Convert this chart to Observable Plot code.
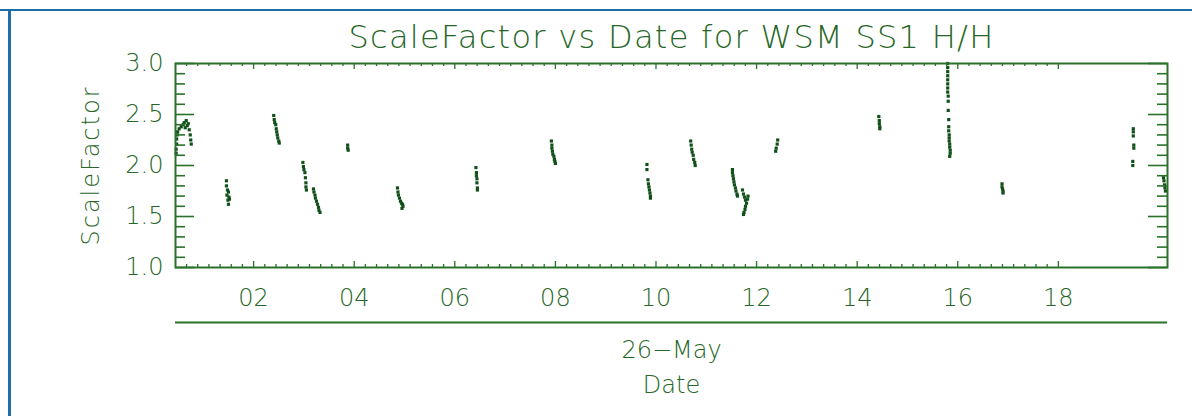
<!DOCTYPE html>
<html><head><meta charset="utf-8">
<script src="https://cdn.jsdelivr.net/npm/d3@7"></script>
<script src="https://cdn.jsdelivr.net/npm/@observablehq/plot@0.6"></script>
<style>
html,body{margin:0;padding:0;background:#fff;width:1192px;height:416px;overflow:hidden;}
#wrap{position:relative;width:1192px;height:416px;}
#chart{position:absolute;left:0;top:0;}
#topline{position:absolute;left:0;top:9px;width:1192px;height:2px;background:#1e6ea7;}
#leftline{position:absolute;left:8px;top:9px;width:3px;height:407px;background:#1e6ea7;}
</style></head><body>
<div id="wrap"><div id="chart"></div><div id="topline"></div><div id="leftline"></div></div>
<script>
// ---- data (hours of 26-May, scale factor) ----
const timeHours = [
  0.46,0.46,0.47,0.47,0.48,0.49,0.52,0.56,0.60,0.62,0.64,0.66,0.68,0.70,0.72,0.74,0.75,0.76,
  1.46,1.46,1.48,1.50,1.47,1.51,1.49,1.52,1.50,
  2.40,2.41,2.42,2.44,2.45,2.46,2.47,2.48,2.50,2.51,
  2.98,2.99,3.00,3.02,3.03,3.04,3.04,3.05,
  3.19,3.20,3.22,3.23,3.25,3.27,3.29,3.30,3.32,
  3.87,3.87,3.88,
  4.86,4.87,4.88,4.90,4.92,4.94,4.96,4.97,4.95,
  6.42,6.43,6.43,6.44,6.44,6.45,6.45,
  7.92,7.93,7.93,7.94,7.95,7.97,7.98,7.99,8.00,
  9.82,9.82,9.84,9.85,9.86,9.87,9.88,9.89,9.89,
  10.69,10.70,10.71,10.72,10.74,10.75,10.77,10.78,
  11.52,11.52,11.53,11.54,11.55,11.56,11.58,11.59,11.61,11.62,
  11.72,11.74,11.76,11.78,11.80,11.78,11.77,11.75,11.74,11.82,11.83,
  12.38,12.39,12.41,12.42,
  14.43,14.44,14.44,14.45,14.45,
  15.80,15.80,15.80,15.80,15.80,15.80,15.80,15.80,15.81,15.81,15.81,15.82,15.82,15.82,15.83,15.83,15.83,15.84,15.84,15.85,15.85,15.84,
  16.88,16.88,16.89,16.90,16.90,
  19.49,19.49,19.49,19.50,19.50,19.48,19.48,
  20.09,20.10,20.11,20.12,20.13
];
const scaleFactor = [
  2.12,2.16,2.21,2.26,2.30,2.33,2.36,2.38,2.40,2.42,2.37,2.44,2.39,2.41,2.35,2.30,2.25,2.21,
  1.85,1.80,1.76,1.74,1.71,1.69,1.66,1.67,1.62,
  2.49,2.45,2.42,2.40,2.36,2.33,2.30,2.27,2.24,2.22,
  2.03,1.99,1.96,1.93,1.88,1.83,1.79,1.76,
  1.77,1.74,1.71,1.68,1.65,1.62,1.59,1.56,1.54,
  2.20,2.17,2.15,
  1.78,1.74,1.71,1.68,1.65,1.63,1.62,1.60,1.58,
  1.98,1.93,1.90,1.87,1.83,1.78,1.76,
  2.24,2.20,2.17,2.14,2.11,2.09,2.06,2.04,2.02,
  2.01,1.96,1.86,1.82,1.79,1.76,1.73,1.70,1.68,
  2.24,2.20,2.16,2.13,2.10,2.06,2.03,2.00,
  1.96,1.93,1.90,1.87,1.84,1.81,1.78,1.75,1.72,1.70,
  1.76,1.72,1.69,1.66,1.63,1.60,1.57,1.54,1.52,1.67,1.70,
  2.14,2.17,2.21,2.25,
  2.48,2.44,2.41,2.38,2.36,
  3.00,2.96,2.92,2.88,2.84,2.80,2.76,2.72,2.68,2.63,2.54,2.45,2.38,2.34,2.30,2.27,2.24,2.21,2.18,2.15,2.12,2.09,
  1.82,1.79,1.77,1.75,1.73,
  2.36,2.33,2.29,2.20,2.17,2.04,2.00,
  1.88,1.85,1.81,1.78,1.75
];
const xDomain = [0.447, 20.17];
const yDomain = [1.0, 3.0];
const xTicks = [2, 4, 6, 8, 10, 12, 14, 16, 18];
const xTickLabels = ["02", "04", "06", "08", "10", "12", "14", "16", "18"];
const yTicks = [1.0, 1.5, 2.0, 2.5, 3.0];
const yTickLabels = ["1.0", "1.5", "2.0", "2.5", "3.0"];
const titleText = "ScaleFactor vs Date for WSM SS1 H/H";
const yLabel = "ScaleFactor";
const dateLabel = "26\u2212May";
const xLabel = "Date";

// ---- style ----
const W = 1192, H = 416, mL = 175, mR = 25, mT = 63, mB = 149;
const plotW = W - mL - mR, plotH = H - mT - mB;
const axisColor = "#2a712a", textColor = "#266626", dataColor = "#12501a";
const font = "DejaVu Sans, sans-serif";

const yMinor = d3.range(10, 31).map(i => i / 10).filter(v => !yTicks.some(t => Math.abs(t - v) < 1e-9));
const xMinor = d3.range(0, 82).map(k => k * 2 / 9).filter(v => v > xDomain[0] && v < xDomain[1] && Math.abs(v / 2 - Math.round(v / 2)) > 1e-6);

const pts = timeHours.map((h, i) => ({h, v: scaleFactor[i]}));
const txt = {fill: textColor, fontWeight: 300};

const chart = Plot.plot({
  width: W, height: H,
  marginLeft: mL, marginRight: mR, marginTop: mT, marginBottom: mB,
  style: {fontFamily: font, background: "transparent"},
  x: {domain: xDomain, axis: null},
  y: {domain: yDomain, axis: null},
  marks: [
    // data
    Plot.dot(pts, {x: "h", y: "v", symbol: "square", r: 1.8, fill: dataColor, stroke: "none"}),
    // frame
    Plot.frame({stroke: axisColor, strokeWidth: 2}),
    // y ticks left / right
    Plot.tickY(yTicks, {y: d => d, insetRight: plotW - 19, stroke: axisColor, strokeWidth: 1.6}),
    Plot.tickY(yMinor, {y: d => d, insetRight: plotW - 10, stroke: axisColor, strokeWidth: 1.6}),
    Plot.tickY(yTicks, {y: d => d, insetLeft: plotW - 19, stroke: axisColor, strokeWidth: 1.6}),
    Plot.tickY(yMinor, {y: d => d, insetLeft: plotW - 10, stroke: axisColor, strokeWidth: 1.6}),
    // x ticks bottom / top
    Plot.tickX(xTicks, {x: d => d, insetTop: plotH - 6, stroke: axisColor, strokeWidth: 1.3}),
    Plot.tickX(xMinor, {x: d => d, insetTop: plotH - 3, stroke: axisColor, strokeWidth: 1.3}),
    Plot.tickX(xTicks, {x: d => d, insetBottom: plotH - 6, stroke: axisColor, strokeWidth: 1.3}),
    Plot.tickX(xMinor, {x: d => d, insetBottom: plotH - 3, stroke: axisColor, strokeWidth: 1.3}),
    // second (date) axis line
    Plot.tickY([yDomain[0]], {y: d => d, dy: 55, stroke: axisColor, strokeWidth: 2}),
    // tick labels
    Plot.text(yTicks, {y: d => d, text: (d, i) => yTickLabels[i], frameAnchor: "left", dx: -12, textAnchor: "end", lineAnchor: "middle", fontSize: 24, ...txt}),
    Plot.text(xTicks, {x: d => d, text: (d, i) => xTickLabels[i], frameAnchor: "bottom", dy: 21, lineAnchor: "top", fontSize: 24, ...txt}),
    // labels
    Plot.text([yLabel], {frameAnchor: "left", dx: -84, rotate: -90, textAnchor: "middle", lineAnchor: "middle", fontSize: 24, ...txt}),
    Plot.text([titleText], {frameAnchor: "top", dy: -38, lineAnchor: "top", textAnchor: "middle", fontSize: 32, ...txt}),
    Plot.text([dateLabel], {frameAnchor: "bottom", dy: 73, lineAnchor: "top", textAnchor: "middle", fontSize: 24, ...txt}),
    Plot.text([xLabel], {frameAnchor: "bottom", dy: 108, lineAnchor: "top", textAnchor: "middle", fontSize: 24, ...txt})
  ]
});
// letter spacing to mimic the wide vector font
chart.querySelectorAll("text").forEach(t => {
  if (t.textContent === titleText) t.setAttribute("letter-spacing", "1.3");
  if (t.textContent === yLabel) t.setAttribute("letter-spacing", "2");
});
document.getElementById("chart").appendChild(chart);
</script>
</body></html>
